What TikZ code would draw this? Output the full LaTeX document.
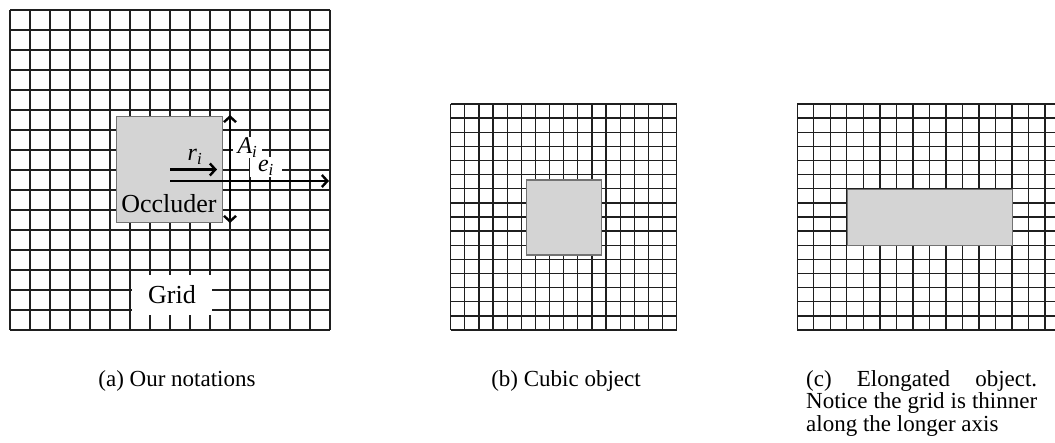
\documentclass[tikz,border=0pt]{standalone}
\usepackage{fontspec}
\setmainfont{Liberation Serif}
\usetikzlibrary{arrows.meta}
\begin{document}
\begin{tikzpicture}[x=1pt,y=-1pt,
  gridline/.style={line width=1.3pt,draw=black!88},
  occl/.style={draw=black!55,line width=1.3pt,fill=black!17,inner sep=0pt,anchor=north west},
  bigarrow/.style={line width=2.6pt,-{Straight Barb[length=5.5pt,width=12pt,line width=2.4pt]}},
  lbl/.style={font=\fontsize{24}{26}\selectfont\itshape,inner sep=1pt},
  bigtxt/.style={font=\fontsize{26}{28}\selectfont},
  capt/.style={font=\fontsize{23}{22.5}\selectfont,inner sep=0pt}]
\useasboundingbox (0,0) rectangle (1055,443);
% ---------- panel (a) ----------
\foreach \i in {0,...,16} {
  \draw[gridline] (10+\i*20,10) -- (10+\i*20,330);
  \draw[gridline] (10,10+\i*20) -- (330,10+\i*20);
}
\node[occl,minimum width=106pt,minimum height=106pt] (occa) at (116,116) {};
\node[bigtxt,anchor=base,inner sep=0pt] (occtxt) at (169,213) {Occluder};
\node[bigtxt,fill=white,minimum width=80pt,minimum height=40pt,inner sep=0pt] (gridlbl) at (172,295) {Grid};
\coordinate (atop) at (230,115);
\coordinate (amid) at (230,169);
\coordinate (abot) at (230,223);
\coordinate (estart) at (170,181);
\coordinate (eend) at (329,181);
\coordinate (rstart) at (170,169.5);
\coordinate (rend) at (217,169.5);
\fill[black] (228.6,118) rectangle (231.4,220);
\draw[bigarrow] (amid) -- (atop);
\draw[bigarrow] (amid) -- (abot);
\draw[bigarrow] (estart) -- (eend);
\draw[bigarrow] (rstart) -- (rend);
\node[lbl,fill=white,minimum width=29pt,minimum height=21pt] (alab) at (247.5,147.5) {A\textsubscript{i}};
\node[lbl,fill=white,minimum width=32pt,minimum height=20pt] (elab) at (266,167.5) {e\textsubscript{i}};
\node[lbl] (rlab) at (195,157) {r\textsubscript{i}};
% ---------- panel (b) ----------
\foreach \i in {0,...,16} {
  \draw[gridline] (450.7+\i*14.125,104) -- (450.7+\i*14.125,330);
  \draw[gridline] (450.7,104+\i*14.125) -- (676.7,104+\i*14.125);
}
\node[occl,minimum width=75pt,minimum height=75pt] (occb) at (525.7,179.3) {};
% ---------- panel (c) ----------
\begin{scope}
\clip (780,90) rectangle (1055,340);
\foreach \i in {0,...,16} {
  \draw[gridline] (797.3+\i*16.51,104) -- (797.3+\i*16.51,330);
  \draw[gridline] (797.3,104+\i*14.125) -- (1061.5,104+\i*14.125);
}
\end{scope}
\node[occl,minimum width=165pt,minimum height=56pt] (occc) at (846.8,189) {};
% ---------- captions ----------
\node[capt,anchor=base] (capa) at (177,387) {(a) Our notations};
\node[capt,anchor=base] (capb) at (566,387) {(b) Cubic object};
\node[capt,anchor=north west] (capc) at (806,370)
  {\parbox[t]{231pt}{\baselineskip=22.5pt
   \hbox to 231pt{(c)\hfill Elongated\hfill object.}
   \hbox to 231pt{Notice\hfill the\hfill grid\hfill is\hfill thinner}
   \hbox{along the longer axis}}};
\end{tikzpicture}
\end{document}
